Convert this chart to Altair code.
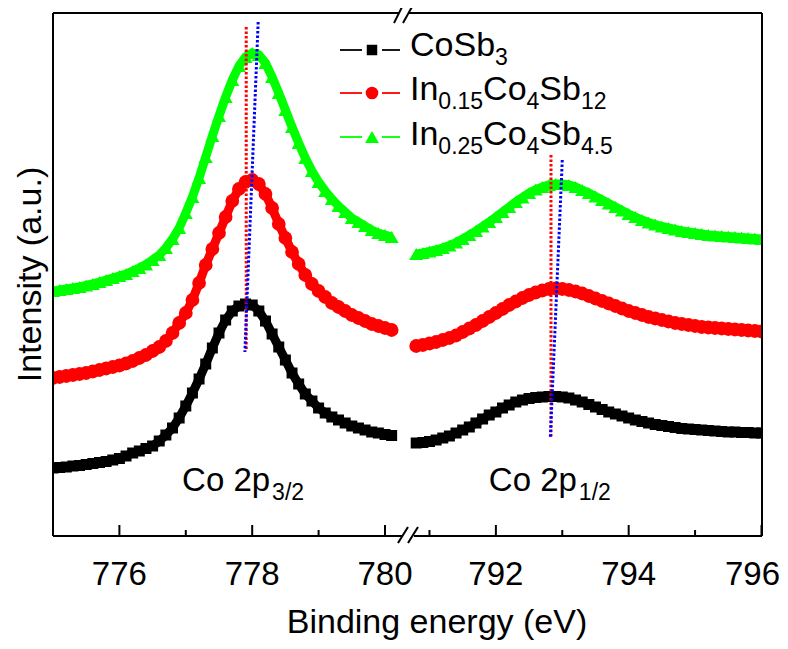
import altair as alt
import numpy as np
import pandas as pd

# ---------------- data ----------------
series_names = ["CoSb3", "In0.15Co4Sb12", "In0.25Co4Sb4.5"]
series_colors = ["#000000", "#ff0000", "#00ff00"]
series_shapes = ["square", "circle", "triangle-up"]
series_sizes = [121, 190, 200]

# binding energies (eV) of the two recorded windows
energy_left = np.round(np.arange(775.0, 780.15, 0.1), 1)    # Co 2p3/2 : 775.0 ... 780.1
energy_right = np.round(np.arange(790.8, 796.05, 0.1), 1)   # Co 2p1/2 : 790.8 ... 796.0

# intensities (a.u., offset stacked as in the figure)
cosb3_left = [68, 68.5, 69, 70, 70.5, 71.5, 72.5, 73.5, 74.5, 76,
              77.5, 80, 83, 85, 87.5, 90, 95, 101, 108, 118,
              130, 143, 157, 172, 188, 203, 216, 225, 230, 232,
              231, 225, 215, 202, 189, 176, 163, 152, 142, 135,
              128, 123, 119, 116, 113, 110, 108, 106, 104, 103,
              101.5, 100.5]
in015_left = [158, 159, 160, 161, 162, 163, 164.5, 166, 167.5, 169,
              170.5, 172.5, 175, 178, 181, 185, 189, 195, 203, 213,
              223, 236, 253, 271, 287, 303, 319, 335, 347, 354,
              356, 352, 342, 328, 312, 298, 284, 272, 261, 252,
              245, 239, 233, 229, 225, 221, 218, 215, 212, 210,
              208, 206]
in025_left = [245, 246, 247, 248, 249, 250.5, 252, 254, 256, 258,
              260, 262, 265, 268, 271.5, 276, 281, 288, 297, 308,
              323, 339, 358, 379, 400, 420, 439, 456, 470, 479,
              483, 481, 473, 459, 443, 426, 409, 393, 378, 365,
              354, 345, 337, 330, 324, 318, 314, 310, 306, 303,
              301, 299]

cosb3_right = [93, 93.5,
               94.5, 96, 98, 100, 103, 106, 109, 113, 117, 121,
               124, 128, 131, 134, 136, 137.5, 138.5, 139, 139.5, 139.5,
               139, 138, 136, 134, 131.5, 129, 126.5, 124, 122, 120,
               118, 116, 114.5, 113, 111.5, 110.5, 109.5, 108.5, 107.5, 107,
               106.5, 106, 105.5, 105, 104.5, 104, 104, 103.5, 103.5, 103,
               103]
in015_right = [190, 191,
               192.5, 194, 196, 198, 200.5, 204, 207.5, 211, 215, 219,
               223, 227, 231, 234.5, 238, 241, 243.5, 245.5, 247, 247.5,
               247, 246, 244.5, 242.5, 240, 237.5, 235, 232.5, 230, 227.5,
               225, 223, 221, 219, 217.5, 216, 214.5, 213, 212, 211,
               210, 209, 208.5, 208, 207.5, 207, 206.5, 206, 205.5, 205,
               204.5]
in025_right = [282, 283,
               284.5, 286, 288, 290.5, 293.5, 297, 301, 305, 309.5, 314,
               319, 324, 329, 334, 338.5, 343, 346.5, 349, 351, 352,
               352, 351, 349, 346, 343, 339.5, 336, 332.5, 329, 325.5,
               322, 319, 316, 313.5, 311.5, 309.5, 308, 306.5, 305, 304,
               303, 302, 301, 300.5, 300, 299.5, 299, 298.5, 298, 297.5,
               297]

# peak-position guide lines (dotted)
guide_color = ["#ff0000", "#0000ff", "#ff0000", "#0000ff"]
guide_e_top = [777.91, 778.09, 792.83, 793.00]
guide_e_bottom = [777.91, 777.89, 792.83, 792.82]
guide_i_top = [509, 514, 381, 376]
guide_i_bottom = [187, 184, 99, 98]

major_ticks = [776, 778, 780, 792, 794, 796]
minor_ticks = [777, 779, 791, 793, 795]

# ---------------- layout ----------------
W, H = 709, 523
E0 = 775.0          # left end of the axis
GAP = 10.33         # eV removed by the axis break
XMAX = 10.678       # axis length in (broken) eV units
UNIT = W / XMAX     # px per eV
FONT = "Liberation Sans"


def axis_v(e):
    return e - E0 if e < 785 else e - E0 - GAP


def pxv(px):        # plot-relative pixel -> axis units (layout helper)
    return px / UNIT


def pyi(py):        # plot-relative pixel -> intensity units (layout helper)
    return H - py


X_SCALE = alt.Scale(domain=[0, XMAX], nice=False, zero=False)
Y_SCALE = alt.Scale(domain=[0, H], nice=False, zero=False)


def X(field):
    return alt.X(field, type="quantitative", scale=X_SCALE, axis=None)


def Y(field):
    return alt.Y(field, type="quantitative", scale=Y_SCALE, axis=None)


rows = []
for name, left, right in zip(series_names,
                             [cosb3_left, in015_left, in025_left],
                             [cosb3_right, in015_right, in025_right]):
    assert len(left) == len(energy_left) and len(right) == len(energy_right)
    for e, i in zip(energy_left, left):
        rows.append({"series": name, "panel": "p32", "E": float(e), "v": axis_v(float(e)), "I": i})
    for e, i in zip(energy_right, right):
        rows.append({"series": name, "panel": "p12", "E": float(e), "v": axis_v(float(e)), "I": i})
curves = pd.DataFrame(rows)

layers = []
for name, col in zip(series_names, series_colors):
    d = curves[curves.series == name]
    layers.append(
        alt.Chart(d).mark_line(color=col, strokeWidth=9, clip=True).encode(
            x=X("v"), y=Y("I"), detail="panel:N", order="v:Q")
    )
for name, col, shp, sz in zip(series_names, series_colors, series_shapes, series_sizes):
    d = curves[curves.series == name]
    layers.append(
        alt.Chart(d).mark_point(shape=shp, filled=True, size=sz, color=col,
                                opacity=1, strokeWidth=0, clip=True).encode(
            x=X("v"), y=Y("I"))
    )

# dotted peak guides
guides = pd.DataFrame({
    "x1": [axis_v(e) for e in guide_e_top], "x2": [axis_v(e) for e in guide_e_bottom],
    "y1": guide_i_top, "y2": guide_i_bottom, "c": guide_color})
layers.append(
    alt.Chart(guides).mark_rule(strokeWidth=3, strokeDash=[2.5, 2]).encode(
        x=X("x1"), x2="x2", y=Y("y1"), y2="y2",
        color=alt.Color("c:N", scale=None))
)

# frame with axis break
frame = pd.DataFrame({
    "x1": [0, XMAX, 0, pxv(355), 0, pxv(361)],
    "x2": [0, XMAX, pxv(346), XMAX, pxv(350), XMAX],
    "y1": [0, 0, H, H, 0, 0],
    "y2": [H, H, H, H, 0, 0]})
slashes = pd.DataFrame({
    "x1": [pxv(341), pxv(350), pxv(345), pxv(355)],
    "x2": [pxv(350), pxv(360), pxv(355), pxv(365)],
    "y1": [pyi(10), pyi(10), pyi(530), pyi(530)],
    "y2": [pyi(-8), pyi(-8), pyi(514), pyi(514)]})
ticks = pd.DataFrame({
    "x1": [axis_v(e) for e in major_ticks] + [axis_v(e) for e in minor_ticks],
    "y1": [0] * (len(major_ticks) + len(minor_ticks)),
    "y2": [11] * len(major_ticks) + [6] * len(minor_ticks)})
for df in (frame, slashes):
    layers.append(
        alt.Chart(df).mark_rule(color="black", strokeWidth=2).encode(
            x=X("x1"), x2="x2", y=Y("y1"), y2="y2"))
layers.append(
    alt.Chart(ticks).mark_rule(color="black", strokeWidth=2).encode(
        x=X("x1"), y=Y("y1"), y2="y2"))

# tick labels (drawn from the tick values through the x scale)
tick_lab = pd.DataFrame({"v": [axis_v(e) for e in major_ticks],
                         "t": [str(e) for e in major_ticks],
                         "I": [pyi(H + 49)] * len(major_ticks)})
inner = tick_lab.iloc[:-1]
last = tick_lab.iloc[-1:].assign(v=XMAX + pxv(18))   # last label sits flush at the frame edge
layers.append(alt.Chart(inner).mark_text(align="center", baseline="alphabetic", font=FONT,
                                         fontSize=33, color="black").encode(
    x=X("v"), y=Y("I"), text="t:N"))
layers.append(alt.Chart(last).mark_text(align="right", baseline="alphabetic", font=FONT,
                                        fontSize=33, color="black").encode(
    x=X("v"), y=Y("I"), text="t:N"))

# axis titles
xt = pd.DataFrame({"t": ["Binding energy (eV)"], "v": [pxv(384)], "I": [pyi(H + 97)]})
yt = pd.DataFrame({"t": ["Intensity (a.u.)"], "v": [pxv(-12)], "I": [H / 2]})
layers.append(alt.Chart(xt).mark_text(align="center", baseline="alphabetic", font=FONT,
                                      fontSize=34, color="black").encode(
    x=X("v"), y=Y("I"), text="t:N"))
layers.append(alt.Chart(yt).mark_text(align="center", baseline="alphabetic", font=FONT,
                                      fontSize=34, color="black", angle=270).encode(
    x=X("v"), y=Y("I"), text="t:N"))

# peak annotations  "Co 2p" + subscript
ann_main = pd.DataFrame({"t": ["Co 2p", "Co 2p"], "v": [axis_v(778.27), axis_v(793.22)], "I": [45, 45]})
ann_sub = pd.DataFrame({"t": ["3/2", "1/2"], "v": [axis_v(778.30), axis_v(793.25)], "I": [36, 36]})
layers.append(alt.Chart(ann_main).mark_text(align="right", baseline="alphabetic", font=FONT,
                                            fontSize=33, color="black").encode(
    x=X("v"), y=Y("I"), text="t:N"))
layers.append(alt.Chart(ann_sub).mark_text(align="left", baseline="alphabetic", font=FONT,
                                           fontSize=23, color="black").encode(
    x=X("v"), y=Y("I"), text="t:N"))

# legend (drawn inside the plot, with chemical subscripts)
ADV = {"C": 0.722, "o": 0.556, "S": 0.667, "b": 0.556, "I": 0.278, "n": 0.556, ".": 0.278}
legend_runs = [
    [("CoSb", 0), ("3", 1)],
    [("In", 0), ("0.15", 1), ("Co", 0), ("4", 1), ("Sb", 0), ("12", 1)],
    [("In", 0), ("0.25", 1), ("Co", 0), ("4", 1), ("Sb", 0), ("4.5", 1)],
]
FS_MAIN, FS_SUB = 34, 23
row_sym_y = [37, 80, 124]
row_base_y = [43, 87, 132]
leg_text, leg_lines, leg_syms = [], [], []
for k, runs in enumerate(legend_runs):
    cur = 357.0
    for txt, sub in runs:
        fs = FS_SUB if sub else FS_MAIN
        leg_text.append({"t": txt, "sub": sub, "v": pxv(cur),
                         "I": pyi(row_base_y[k] + (8.5 if sub else 0))})
        cur += sum(ADV.get(ch, 0.556) for ch in txt) * fs
    for a, b in ((287, 309), (329, 347)):
        leg_lines.append({"k": k, "x1": pxv(a), "x2": pxv(b), "I": pyi(row_sym_y[k])})
    leg_syms.append({"k": k, "v": pxv(319), "I": pyi(row_sym_y[k])})
leg_text = pd.DataFrame(leg_text)
leg_lines = pd.DataFrame(leg_lines)
leg_syms = pd.DataFrame(leg_syms)
for k, (col, shp, sz) in enumerate(zip(series_colors, series_shapes, [110, 160, 190])):
    layers.append(alt.Chart(leg_lines[leg_lines.k == k]).mark_rule(color=col, strokeWidth=1.8).encode(
        x=X("x1"), x2="x2", y=Y("I")))
    layers.append(alt.Chart(leg_syms[leg_syms.k == k]).mark_point(
        shape=shp, filled=True, size=sz, color=col, opacity=1, strokeWidth=0).encode(
        x=X("v"), y=Y("I")))
for sub, fs in ((0, FS_MAIN), (1, FS_SUB)):
    layers.append(alt.Chart(leg_text[leg_text["sub"] == sub]).mark_text(
        align="left", baseline="alphabetic", font=FONT, fontSize=fs, color="black").encode(
        x=X("v"), y=Y("I"), text="t:N"))

chart = alt.layer(*layers).properties(
    width=W, height=H,
    padding={"left": 45, "top": 5, "right": 18, "bottom": 105},
    autosize=alt.AutoSizeParams(type="none"),
    background="white",
).configure_view(stroke=None)

chart.save("out.html", embed_options={"renderer": "svg", "actions": False})
